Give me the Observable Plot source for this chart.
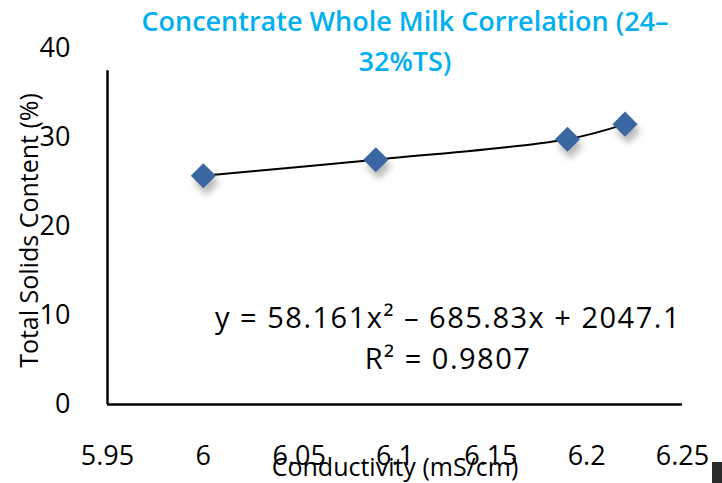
<!DOCTYPE html>
<html>
<head>
<meta charset="utf-8">
<script src="https://cdn.jsdelivr.net/npm/d3@7"></script>
<script src="https://cdn.jsdelivr.net/npm/@observablehq/plot@0.6"></script>
<style>
  html, body { margin: 0; padding: 0; background: #fff; }
  #wrap { position: relative; width: 722px; height: 483px; overflow: hidden; }
  #corner { position: absolute; left: 712px; top: 462px; width: 10px; height: 21px; background: #2b2b2b; }
  .eq text { letter-spacing: 1.5px; }
</style>
</head>
<body>
<div id="wrap"><div id="chart"></div><div id="corner"></div></div>
<script>
// Data
const conductivity = [6.0, 6.09, 6.19, 6.22];
const totalSolids = [25.7, 27.5, 29.8, 31.5];
const xTicks = [5.95, 6, 6.05, 6.1, 6.15, 6.2, 6.25];
const yTicks = [0, 10, 20, 30, 40];
const titleLines = ["Concentrate Whole Milk Correlation (24\u2013", "32%TS)"];
const equationLines = ["y = 58.161x\u00b2 \u2013 685.83x + 2047.1", "R\u00b2 = 0.9807"];
const xLabel = "Conductivity (mS/cm)";
const yLabel = "Total Solids Content (%)";

const points = conductivity.map((x, i) => ({x, y: totalSolids[i]}));
const font = "'Open Sans', 'Noto Sans', sans-serif";

const chart = Plot.plot({
  width: 722,
  height: 483,
  marginLeft: 107,
  marginRight: 40,
  marginTop: 48,
  marginBottom: 79,
  style: {fontFamily: font, fontSize: "27px", color: "#000", background: "#fff", overflow: "visible"},
  x: {domain: [xTicks[0], xTicks[xTicks.length - 1]]},
  y: {domain: [yTicks[0], yTicks[yTicks.length - 1]]},
  marks: [
    Plot.axisX({ticks: xTicks, tickSize: 0, tickPadding: 41, fontSize: 27, label: null,
      tickFormat: d => String(+d.toFixed(2))}),
    Plot.axisY({ticks: yTicks, tickSize: 0, tickPadding: 37, fontSize: 27, label: null}),
    Plot.ruleY([yTicks[0]], {stroke: "#000", strokeWidth: 2.5}),
    Plot.ruleX([xTicks[0]], {y1: yTicks[0], y2: 37.5, stroke: "#000", strokeWidth: 2.5}),
    // marker shadows
    Plot.dot(points, {x: "x", y: "y", symbol: "square", r: 10, rotate: 45, fill: "#555",
      fillOpacity: 0.4, dx: 3, dy: 7, imageFilter: "blur(3px)"}),
    // trendline (smooth curve through the markers)
    Plot.line(points, {x: "x", y: "y", curve: "catmull-rom", stroke: "#000", strokeWidth: 2}),
    Plot.dot(points, {x: "x", y: "y", symbol: "square", r: 10, rotate: 45, fill: "#3A67A2", stroke: "none"}),
    Plot.text([titleLines.join("\n")], {frameAnchor: "top", lineAnchor: "top", dx: 10, dy: -46,
      lineHeight: 1.48, fill: "#00B0F0", fontSize: 27, fontWeight: 600}),
    Plot.text([equationLines.join("\n")], {frameAnchor: "bottom", lineAnchor: "middle", dx: 53, dy: -69,
      lineHeight: 1.4, fill: "#000", fontSize: 29, className: "eq"}),
    Plot.text([xLabel], {frameAnchor: "bottom", lineAnchor: "middle", dy: 63, fontSize: 25, fill: "#000"}),
    Plot.text([yLabel], {frameAnchor: "left", textAnchor: "middle", lineAnchor: "middle", rotate: -90,
      dx: -78, dy: 4, fontSize: 25, fill: "#000"})
  ]
});
document.getElementById("chart").appendChild(chart);
</script>
</body>
</html>
